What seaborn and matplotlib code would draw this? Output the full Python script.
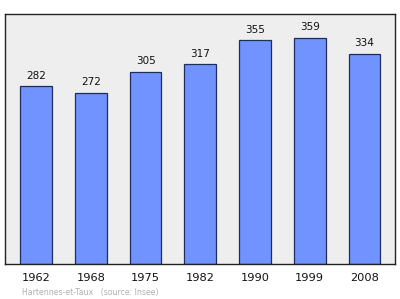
import matplotlib
matplotlib.use("Agg")
import matplotlib.pyplot as plt
import seaborn as sns
import pandas as pd

years = ["1962", "1968", "1975", "1982", "1990", "1999", "2008"]
population = [282, 272, 305, 317, 355, 359, 334]

df = pd.DataFrame({"year": years, "pop": population})

sns.set_style("white")
plt.rcParams["font.family"] = ["DejaVu Sans"]

fig = plt.figure(figsize=(4.0, 2.99), dpi=100)
ax = fig.add_axes([0.0125, 0.117, 0.975, 0.836])
ax.set_facecolor("#eeeeee")

sns.barplot(data=df, x="year", y="pop", ax=ax, color="#7093ff",
            width=0.58, edgecolor="#1f2d5c", linewidth=0.9, saturation=1)

for i, v in enumerate(population):
    ax.text(i, v + 9, str(v), ha="center", va="bottom", fontsize=7.5, color="#111111")

ax.set_xlim(-0.57, 6.56)
ax.set_ylim(0, 397)
ax.set_yticks([])
ax.set_xlabel("")
ax.set_ylabel("")
ax.tick_params(axis="x", length=0, pad=6.5, labelsize=8.2, colors="#111111")
for s in ax.spines.values():
    s.set_color("#222222")
    s.set_linewidth(1.0)

fig.text(0.056, 0.012, "Hartennes-et-Taux   (source: Insee)", fontsize=5.6, color="#b0b0b0")

fig.savefig("out.png", dpi=100, facecolor="white")
